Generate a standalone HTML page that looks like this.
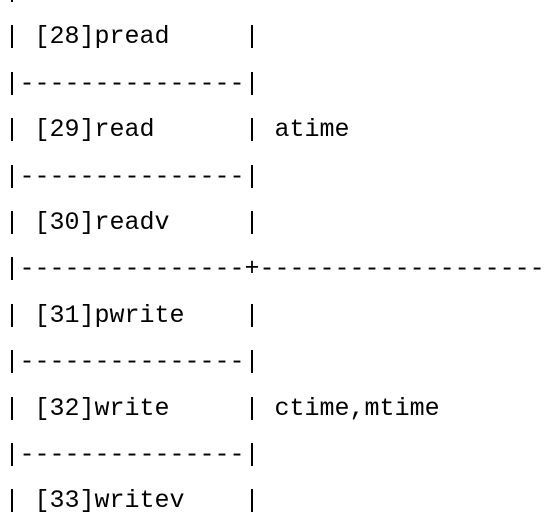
<!DOCTYPE html>
<html><head><style>
html,body{margin:0;padding:0;background:#fff;width:548px;height:522px;overflow:hidden}
pre{position:absolute;left:4.5px;top:-32px;margin:0;font-family:"Liberation Mono",monospace;font-size:25px;line-height:46.4px;color:#000}
</style></head><body>
<pre>|
| [28]pread     |
|---------------|
| [29]read      | atime
|---------------|
| [30]readv     |
|---------------+--------------------
| [31]pwrite    |
|---------------|
| [32]write     | ctime,mtime
|---------------|
| [33]writev    |</pre>
</body></html>
